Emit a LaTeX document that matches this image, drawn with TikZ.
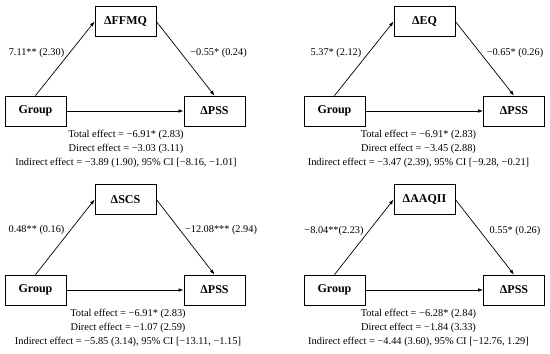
\documentclass[tikz,border=0pt]{standalone}
\usepackage{fontspec}
\setmainfont{Liberation Serif}
\usetikzlibrary{arrows.meta,positioning}

\begin{document}
\begin{tikzpicture}[x=1pt,y=-1pt,>={Latex[length=5pt,width=3.6pt]},
  var/.style={draw,line width=0.8pt,minimum width=61pt,minimum height=30pt,inner sep=0pt,
    font=\fontsize{12}{14}\selectfont\bfseries},
  med/.style={->,line width=0.7pt},
  coef/.style={font=\fontsize{10.3}{12}\selectfont},
  effects/.style={align=center,font=\fontsize{10.4}{14}\selectfont}]
  \useasboundingbox (0,0) rectangle (550,354);
  % FFMQ
  \node[var] (g1) at (35.5,111) {Group};
  \node[var] (m1) at (125.5,21.5) {ΔFFMQ};
  \node[var] (p1) at (214.5,111) {ΔPSS};
  \draw[med] (g1.north) -- (m1.west);
  \draw[med] (m1.east) -- (p1.north);
  \draw[med] (g1.east) -- (p1.west);
  \node[coef] (a1) at (36.5,53) {7.11** (2.30)};
  \node[coef] (b1) at (218.5,53) {−0.55* (0.24)};
  \node[effects] (e1) at (126,149) {Total effect = −6.91* (2.83)\\
    Direct effect = −3.03 (3.11)\\
    Indirect effect = −3.89 (1.90), 95\% CI [−8.16, −1.01]};
  % EQ
  \begin{scope}[shift={(299,0)}]
    \node[var] (g2) at (35.5,111) {Group};
    \node[var] (m2) at (125.5,21.5) {ΔEQ};
    \node[var] (p2) at (215,111) {ΔPSS};
    \draw[med] (g2.north) -- (m2.west);
    \draw[med] (m2.east) -- (p2.north);
    \draw[med] (g2.east) -- (p2.west);
    \node[coef] (a2) at (37,53) {5.37* (2.12)};
    \node[coef] (b2) at (216,53) {−0.65* (0.26)};
    \node[effects] (e2) at (119.5,149) {Total effect = −6.91* (2.83)\\
      Direct effect = −3.45 (2.88)\\
      Indirect effect = −3.47 (2.39), 95\% CI [−9.28, −0.21]};
  \end{scope}
  % SCS
  \begin{scope}[shift={(0,178)}]
    \node[var] (g3) at (35.5,112) {Group};
    \node[var] (m3) at (125.5,21.5) {ΔSCS};
    \node[var] (p3) at (214.5,112) {ΔPSS};
    \draw[med] (g3.north) -- (m3.west);
    \draw[med] (m3.east) -- (p3.north);
    \draw[med] (g3.east) -- (p3.west);
    \node[coef] (a3) at (36.5,52) {0.48** (0.16)};
    \node[coef] (b3) at (221,52) {−12.08*** (2.94)};
    \node[effects] (e3) at (128,150) {Total effect = −6.91* (2.83)\\
      Direct effect = −1.07 (2.59)\\
      Indirect effect = −5.85 (3.14), 95\% CI [−13.11, −1.15]};
  \end{scope}
  % AAQII
  \begin{scope}[shift={(299,178)}]
    \node[var] (g4) at (35.5,112) {Group};
    \node[var] (m4) at (125.5,21.5) {ΔAAQII};
    \node[var] (p4) at (215,112) {ΔPSS};
    \draw[med] (g4.north) -- (m4.west);
    \draw[med] (m4.east) -- (p4.north);
    \draw[med] (g4.east) -- (p4.west);
    \node[coef] (a4) at (35,53) {−8.04**(2.23)};
    \node[coef] (b4) at (216,53) {0.55* (0.26)};
    \node[effects] (e4) at (119.5,150) {Total effect = −6.28* (2.84)\\
      Direct effect = −1.84 (3.33)\\
      Indirect effect = −4.44 (3.60), 95\% CI [−12.76, 1.29]};
  \end{scope}
\end{tikzpicture}
\end{document}
